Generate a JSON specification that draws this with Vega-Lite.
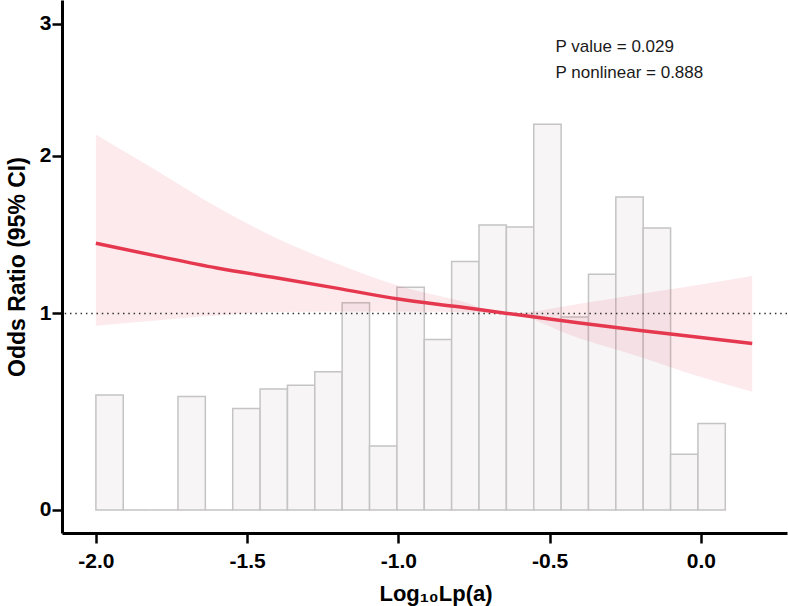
{
  "$schema": "https://vega.github.io/schema/vega-lite/v6.json",
  "width": 725,
  "height": 533,
  "autosize": {"type": "none"},
  "padding": {"left": 62, "top": 0, "right": 1, "bottom": 73},
  "background": "white",
  "datasets": {
    "bins": [
      {"bin_start": -2.0, "bin_end": -1.9095, "pct": 3.07},
      {"bin_start": -1.9095, "bin_end": -1.819, "pct": 0},
      {"bin_start": -1.819, "bin_end": -1.7286, "pct": 0},
      {"bin_start": -1.7286, "bin_end": -1.6381, "pct": 3.03},
      {"bin_start": -1.6381, "bin_end": -1.5476, "pct": 0},
      {"bin_start": -1.5476, "bin_end": -1.4571, "pct": 2.71},
      {"bin_start": -1.4571, "bin_end": -1.3666, "pct": 3.23},
      {"bin_start": -1.3666, "bin_end": -1.2762, "pct": 3.33},
      {"bin_start": -1.2762, "bin_end": -1.1857, "pct": 3.69},
      {"bin_start": -1.1857, "bin_end": -1.0952, "pct": 5.53},
      {"bin_start": -1.0952, "bin_end": -1.0047, "pct": 1.71},
      {"bin_start": -1.0047, "bin_end": -0.9142, "pct": 5.94},
      {"bin_start": -0.9142, "bin_end": -0.8238, "pct": 4.55},
      {"bin_start": -0.8238, "bin_end": -0.7333, "pct": 6.63},
      {"bin_start": -0.7333, "bin_end": -0.6428, "pct": 7.6},
      {"bin_start": -0.6428, "bin_end": -0.5523, "pct": 7.55},
      {"bin_start": -0.5523, "bin_end": -0.4618, "pct": 10.29},
      {"bin_start": -0.4618, "bin_end": -0.3714, "pct": 5.15},
      {"bin_start": -0.3714, "bin_end": -0.2809, "pct": 6.29},
      {"bin_start": -0.2809, "bin_end": -0.1904, "pct": 8.35},
      {"bin_start": -0.1904, "bin_end": -0.0999, "pct": 7.52},
      {"bin_start": -0.0999, "bin_end": -0.0094, "pct": 1.49},
      {"bin_start": -0.0094, "bin_end": 0.081, "pct": 2.31}
    ],
    "curve": [
      {"lp": -2.0, "or": 1.421, "lower": 0.93, "upper": 2.15},
      {"lp": -1.8, "or": 1.342, "lower": 0.96, "upper": 1.898},
      {"lp": -1.6, "or": 1.268, "lower": 0.988, "upper": 1.653},
      {"lp": -1.4, "or": 1.208, "lower": 1.008, "upper": 1.45},
      {"lp": -1.2, "or": 1.146, "lower": 1.011, "upper": 1.292},
      {"lp": -1.0, "or": 1.083, "lower": 1.011, "upper": 1.162},
      {"lp": -0.8, "or": 1.038, "lower": 1.008, "upper": 1.075},
      {"lp": -0.64, "or": 1.0, "lower": 1.0, "upper": 1.0},
      {"lp": -0.4, "or": 0.945, "lower": 0.858, "upper": 1.056},
      {"lp": -0.2, "or": 0.903, "lower": 0.757, "upper": 1.113},
      {"lp": 0.0, "or": 0.864, "lower": 0.649, "upper": 1.169},
      {"lp": 0.17, "or": 0.831, "lower": 0.572, "upper": 1.22}
    ],
    "notes": [
      {"x": -0.48, "y": 2.81, "label": "P value = 0.029"},
      {"x": -0.48, "y": 2.61, "label": "P nonlinear = 0.888"}
    ]
  },
  "layer": [
    {
      "data": {"name": "bins"},
      "mark": {"type": "bar", "fill": "#f7f5f6", "stroke": "#c4c4c4", "strokeWidth": 1.5},
      "encoding": {
        "x": {
          "field": "bin_start", "type": "quantitative", "title": "Log₁₀Lp(a)",
          "scale": {"domain": [-2.112, 0.285], "nice": false, "zero": false},
          "axis": {
            "values": [-2, -1.5, -1, -0.5, 0],
            "labelExpr": "datum.value < 0 ? '-' + format(-datum.value, '.1f') : format(datum.value, '.1f')",
            "tickSize": 10, "labelPadding": 24, "labelBaseline": "alphabetic",
            "labelFlush": false, "labelOverlap": false,
            "titleX": 373.5, "titleY": 67, "titleBaseline": "alphabetic"
          }
        },
        "x2": {"field": "bin_end"},
        "y": {
          "field": "pct", "type": "quantitative",
          "scale": {"domain": [-0.613, 13.6], "nice": false, "zero": false},
          "axis": null
        },
        "y2": {"datum": 0}
      }
    },
    {
      "layer": [
        {
          "data": {"name": "curve"},
          "mark": {"type": "area", "color": "#e8344e", "opacity": 0.1, "interpolate": "monotone"},
          "encoding": {
            "x": {"field": "lp", "type": "quantitative", "title": "Log₁₀Lp(a)"},
            "y": {
              "field": "lower", "type": "quantitative", "title": "Odds Ratio (95% CI)",
              "scale": {"type": "symlog", "constant": 3.6, "domain": [-0.105, 3.2], "nice": false, "zero": false},
              "axis": {
                "orient": "left",
                "values": [0, 1, 2, 3], "format": "d",
                "tickSize": 10, "labelPadding": 1,
                "titleX": -38, "titleY": 266.5, "titleBaseline": "alphabetic", "titleAngle": -90,
                "titleFontSize": 23
              }
            },
            "y2": {"field": "upper"}
          }
        },
        {
          "data": {"values": [{}]},
          "mark": {"type": "rule", "color": "#333333", "strokeWidth": 1.5, "strokeDash": [1.5, 3.8]},
          "encoding": {
            "y": {"datum": 1, "type": "quantitative"}
          }
        },
        {
          "data": {"name": "curve"},
          "mark": {"type": "line", "color": "#e5384f", "strokeWidth": 3.5, "interpolate": "monotone"},
          "encoding": {
            "x": {"field": "lp", "type": "quantitative", "title": "Log₁₀Lp(a)"},
            "y": {"field": "or", "type": "quantitative", "title": "Odds Ratio (95% CI)"}
          }
        },
        {
          "data": {"name": "notes"},
          "mark": {"type": "text", "align": "left", "baseline": "middle", "font": "Liberation Sans", "fontSize": 17, "color": "#1a1a1a"},
          "encoding": {
            "x": {"field": "x", "type": "quantitative", "title": "Log₁₀Lp(a)"},
            "y": {"field": "y", "type": "quantitative", "title": "Odds Ratio (95% CI)"},
            "text": {"field": "label"}
          }
        }
      ]
    }
  ],
  "resolve": {"scale": {"y": "independent"}},
  "config": {
    "view": {"stroke": null},
    "axis": {
      "grid": false,
      "domainColor": "#000000",
      "domainWidth": 3,
      "tickColor": "#000000",
      "tickWidth": 2.5,
      "labelFont": "Liberation Sans",
      "labelFontWeight": "bold",
      "labelFontSize": 21,
      "labelColor": "#000000",
      "titleFont": "Liberation Sans",
      "titleFontWeight": "bold",
      "titleFontSize": 22,
      "titleColor": "#000000"
    }
  }
}
